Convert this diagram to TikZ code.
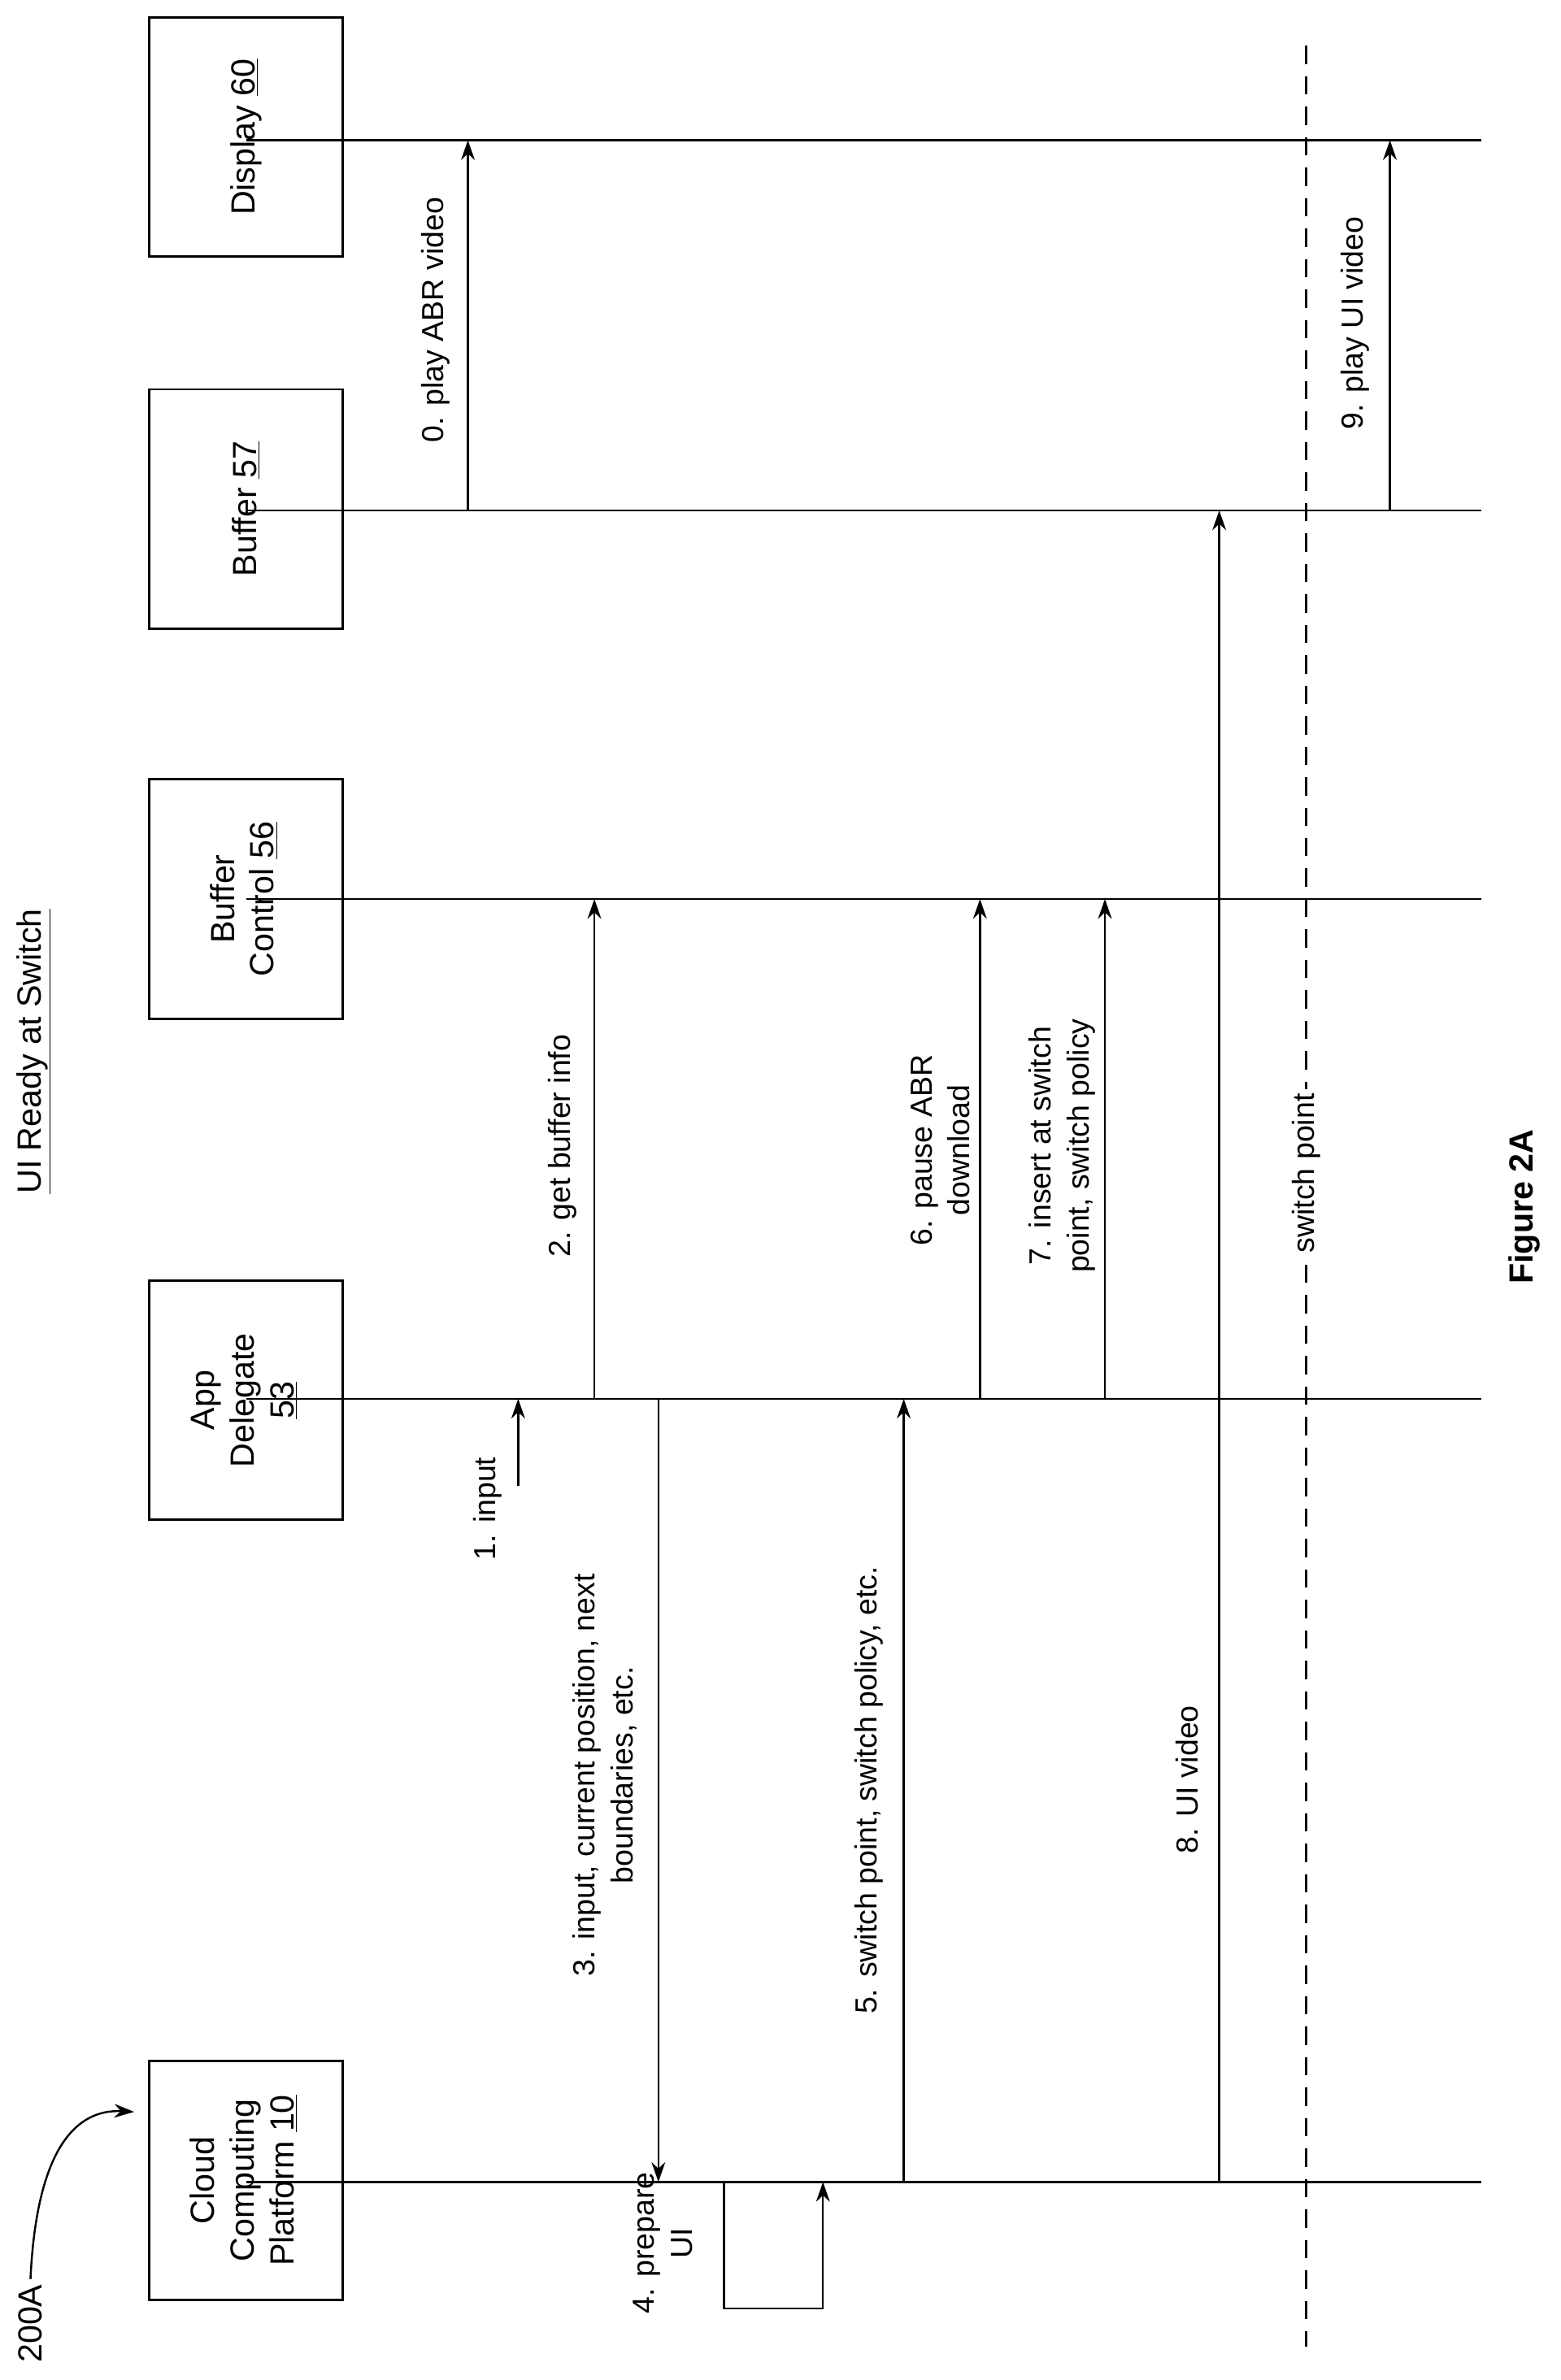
\documentclass[tikz,border=0pt]{standalone}
\usepackage{fontspec}
\setmainfont{Liberation Sans}
\usetikzlibrary{arrows.meta}
\begin{document}
\begin{tikzpicture}[x=1pt,y=-1pt,
  box/.style={draw,line width=1.5pt,minimum width=127pt,minimum height=157pt,align=center,font=\fontsize{22}{26}\selectfont},
  lbl/.style={rotate=90,align=center,font=\fontsize{20}{25}\selectfont},
  life/.style={line width=1.3pt},
  msg/.style={line width=1.3pt,-{Stealth[length=13pt,width=9pt]}}]
\useasboundingbox (0,0) rectangle (1024,1562);
% boxes
\node[box] (disp) at (161.5,90) {\rotatebox{90}{Display \underline{60}}};
\node[box] (buf) at (161.5,334) {\rotatebox{90}{Buffer \underline{57}}};
\node[box] (bc) at (161.5,590) {\rotatebox{90}{\begin{tabular}{c}Buffer\\Control \underline{56}\end{tabular}}};
\node[box] (app) at (161.5,919) {\rotatebox{90}{\begin{tabular}{c}App\\Delegate\\\underline{53}\end{tabular}}};
\node[box] (cloud) at (161.5,1431) {\rotatebox{90}{\begin{tabular}{c}Cloud\\Computing\\Platform \underline{10}\end{tabular}}};
% lifeline ends
\coordinate (dE) at (972,92);
\coordinate (bE) at (972,335);
\coordinate (cE) at (972,590);
\coordinate (aE) at (972,918);
\coordinate (pE) at (972,1432);
\draw[life] (disp.south |- dE) -- (dE);
\draw[life] (buf.south |- bE) -- (bE);
\draw[life] (bc.south |- cE) -- (cE);
\draw[life] (app.south |- aE) -- (aE);
\draw[life] (cloud.south |- pE) -- (pE);
% dashed switch point
\coordinate (s1) at (857,30);
\coordinate (s2) at (857,1540);
\draw[life,dash pattern=on 12pt off 8pt] (s1) -- (s2);
\node[lbl,fill=white,inner sep=3pt] (sp) at (857,770) {switch point};
% messages
\coordinate (m0a) at (307,335); \coordinate (m0b) at (307,92);
\draw[msg] (m0a) -- (m0b);
\node[lbl] (l0) at (286,210) {0. play ABR video};
\coordinate (m1a) at (340,975); \coordinate (m1b) at (340,918);
\draw[msg] (m1a) -- (m1b);
\node[lbl] (l1) at (320,990) {1. input};
\coordinate (m2a) at (390,918); \coordinate (m2b) at (390,590);
\draw[msg] (m2a) -- (m2b);
\node[lbl] (l2) at (369,752) {2. get buffer info};
\coordinate (m3a) at (432,918); \coordinate (m3b) at (432,1432);
\draw[msg] (m3a) -- (m3b);
\node[lbl] (l3) at (397,1165) {3. input, current position, next\\boundaries, etc.};
\coordinate (m4a) at (475,1432); \coordinate (m4b) at (475,1515);
\coordinate (m4c) at (540,1515); \coordinate (m4d) at (540,1432);
\draw[msg] (m4a) -- (m4b) -- (m4c) -- (m4d);
\node[lbl] (l4) at (435,1472) {4. prepare\\UI};
\coordinate (m5a) at (593,1432); \coordinate (m5b) at (593,918);
\draw[msg] (m5a) -- (m5b);
\node[lbl] (l5) at (570,1175) {5. switch point, switch policy, etc.};
\coordinate (m6a) at (643,918); \coordinate (m6b) at (643,590);
\draw[msg] (m6a) -- (m6b);
\node[lbl] (l6) at (617,755) {6. pause ABR\\download};
\coordinate (m7a) at (725,918); \coordinate (m7b) at (725,590);
\draw[msg] (m7a) -- (m7b);
\node[lbl] (l7) at (697,752) {7. insert at switch\\point, switch policy};
\coordinate (m8a) at (800,1432); \coordinate (m8b) at (800,335);
\draw[msg] (m8a) -- (m8b);
\node[lbl] (l8) at (779,1168) {8. UI video};
\coordinate (m9a) at (912,335); \coordinate (m9b) at (912,92);
\draw[msg] (m9a) -- (m9b);
\node[lbl] (l9) at (889,212) {9. play UI video};
% titles
\node[lbl,font=\fontsize{22}{26}\selectfont] (title) at (22,690) {\underline{UI Ready at Switch}};
\node[lbl,font=\fontsize{22}{26}\selectfont\bfseries] (fig) at (1000,792) {Figure 2A};
\node[lbl,font=\fontsize{22}{26}\selectfont] (ref) at (20,1525) {200A};
\coordinate (rt) at (88,1386);
\draw[msg] (ref.east) .. controls (24,1410) and (50,1384) .. (rt);
\end{tikzpicture}
\end{document}
